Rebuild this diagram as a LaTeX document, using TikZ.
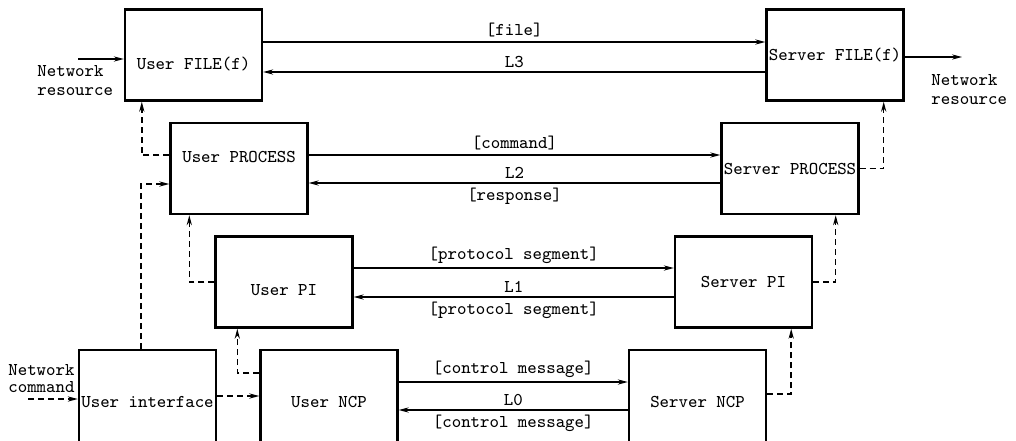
\documentclass[tikz,border=0pt]{standalone}
\usepackage{tikz}
\usetikzlibrary{positioning, arrows.meta}

\begin{document}
\begin{tikzpicture}[x=0.5pt, y=-0.5pt,
              every node/.style = {font=\fontsize{9}{9.5}\selectfont\ttfamily},
              box/.style = {draw, line width=1.2pt, inner sep=0pt,
                minimum width=68.5pt, minimum height=45.5pt},
              tall/.style = {minimum height=52pt},
              flow/.style = {line width=0.6pt, -{Stealth[length=5pt,width=2.6pt]}},
              ctl/.style = {flow, line width=0.75pt, dash pattern=on 3pt off 2pt},
              lbl/.style = {inner sep=2pt}]
  \clip (0,0) rectangle (1016,440);
  % boxes, user side and server side
  \node[box, text height=16.5pt, text depth=2.25pt] (ufile) at (193.5,55) {User FILE(f)};
  \node[box] (sfile) at (835,55) {Server FILE(f)};
  \node[box, text height=6.75pt, text depth=12.75pt] (uproc) at (239,168.5) {User PROCESS};
  \node[box] (sproc) at (790,168.5) {Server PROCESS};
  \node[box, text height=15.75pt, text depth=2.25pt] (upi) at (284,282) {User PI};
  \node[box] (spi) at (743.5,282) {Server PI};
  \node[box, tall] (uint) at (147.5,402) {User interface};
  \node[box, tall] (uncp) at (329,402) {User NCP};
  \node[box, tall] (sncp) at (697.5,402) {Server NCP};

  % outside world
  \node[anchor=north west, align=left, inner sep=0pt] (nresl) at (37,65) {Network\\resource};
  \node[anchor=north west, align=left, inner sep=0pt] (nresr) at (931,74) {Network\\resource};
  \node[anchor=north west, align=left, inner sep=0pt,
        font=\fontsize{9}{8.5}\selectfont\ttfamily] (ncmdt) at (8,364) {Network\\command};
  \coordinate (nrin) at (78,59);
  \coordinate (nrout) at (962,57);
  \coordinate (ncmd) at (28,399);

  % levels L3 .. L0
  \draw[flow] ([yshift=6.5pt]ufile.east) -- ([yshift=6.5pt]sfile.west)
        node[midway, above, lbl] {[file]};
  \draw[flow] ([yshift=-8.5pt]sfile.west) -- ([yshift=-8.5pt]ufile.east)
        node[midway, above, lbl] {L3};
  \draw[flow] ([yshift=6.75pt]uproc.east) -- ([yshift=6.75pt]sproc.west)
        node[midway, above, lbl] {[command]};
  \draw[flow] ([yshift=-7.25pt]sproc.west) -- ([yshift=-7.25pt]uproc.east)
        node[midway, above, lbl] {L2}
        node[midway, below, lbl] {[response]};
  \draw[flow] ([yshift=7pt]upi.east) -- ([yshift=7pt]spi.west)
        node[midway, above, lbl] {[protocol segment]};
  \draw[flow] ([yshift=-7.5pt]spi.west) -- ([yshift=-7.5pt]upi.east)
        node[midway, above, lbl] {L1}
        node[midway, below, lbl] {[protocol segment]};
  \draw[flow] ([yshift=10pt]uncp.east) -- ([yshift=10pt]sncp.west)
        node[midway, above, lbl] {[control message]};
  \draw[flow] ([yshift=-4pt]sncp.west) -- ([yshift=-4pt]uncp.east)
        node[midway, above, lbl] {L0}
        node[midway, below, lbl] {[control message]};

  % resources in and out
  \draw[flow] (nrin) -- (nrin -| ufile.west);
  \draw[flow] ([yshift=-1pt]sfile.east) -- (nrout);
  \draw[ctl] (ncmd) -- (ncmd -| uint.west);

  % dashed control paths
  \draw[ctl] ([yshift=6.75pt]uproc.west) -| ([xshift=9pt]ufile.south west);
  \draw[ctl] ([xshift=-3.25pt]uint.north) |- ([yshift=-7.75pt]uproc.west);
  \draw[ctl] (upi.west) -| ([xshift=10pt]uproc.south west);
  \draw[ctl] ([yshift=14.5pt]uncp.west) -| ([xshift=11.5pt]upi.south west);
  \draw[ctl] ([yshift=3pt]uint.east) -- ([yshift=3pt]uncp.west);
  \draw[ctl] (sproc.east) -| ([xshift=-10.5pt]sfile.south east);
  \draw[ctl] (spi.east) -| ([xshift=-12pt]sproc.south east);
  \draw[ctl] ([yshift=4pt]sncp.east) -| ([xshift=-11pt]spi.south east);
\end{tikzpicture}
\end{document}
